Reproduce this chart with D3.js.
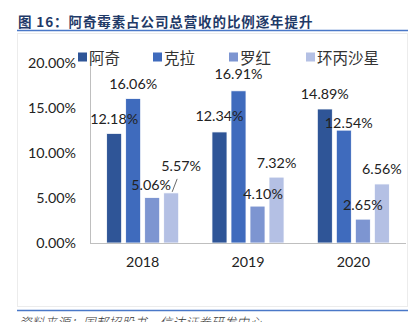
<!DOCTYPE html>
<html><head><meta charset="utf-8">
<script src="https://cdn.jsdelivr.net/npm/d3@7"></script>
<style>
html,body{margin:0;padding:0;background:#fff;}
svg{display:block;}
</style></head>
<body>
<script>
// ---- data ----
const years = ["2018", "2019", "2020"];
const seriesNames = ["阿奇", "克拉", "罗红", "环丙沙星"];
const aqi   = [0.1218, 0.1234, 0.1489];
const kela  = [0.1606, 0.1691, 0.1254];
const luohong = [0.0506, 0.0410, 0.0265];
const huanbing = [0.0557, 0.0732, 0.0656];
const yTicks = [0, 0.05, 0.10, 0.15, 0.20];
const titleText = "图 16：阿奇霉素占公司总营收的比例逐年提升";
const sourceText = "资料来源：国邦招股书，信达证券研发中心";

// ---- layout / style (not data) ----
const colors = ["#2F5597", "#3F6BBD", "#7D95D1", "#B4C0E4"];
// label nudges [dx, dy] per series per year
const labelNudge = [
  [[0,0],[0,-1],[0,0]],
  [[0,0],[0,-2],[5,7]],
  [[-1,2.5],[5.5,2],[0,0]],
  [[10,-12],[0,0],[0,0]]
];

const W = 419, H = 322;
const svg = d3.select("body").append("svg").attr("width", W).attr("height", H);

// title
svg.append("text").attr("x", 18).attr("y", 21)
  .attr("dominant-baseline", "central")
  .attr("font-family", "'Noto Sans CJK SC', sans-serif")
  .attr("font-weight", "bold").attr("font-size", 13.5)
  .attr("letter-spacing", 0.9)
  .attr("fill", "#1F3A68").text(titleText);
svg.append("line").attr("x1", 17).attr("x2", 408).attr("y1", 30.5).attr("y2", 30.5)
  .attr("stroke", "#4A78C8").attr("stroke-width", 1.6);

// faint chart frame
svg.append("rect").attr("x", 17.5).attr("y", 33.5).attr("width", 390).attr("height", 273)
  .attr("fill", "none").attr("stroke", "#ececec").attr("stroke-width", 1);

// scales
const x0 = d3.scaleBand().domain(years).range([90, 406]).paddingInner(0.278).paddingOuter(0.139);
const x1 = d3.scaleBand().domain(seriesNames).range([0, x0.bandwidth()]).paddingInner(0.21).paddingOuter(0.105);
const y = d3.scaleLinear().domain([0, 0.20]).range([243, 63]);

const seriesData = [aqi, kela, luohong, huanbing];

// y axis
const yAxis = svg.append("g").attr("transform", "translate(90,0)")
  .call(d3.axisLeft(y).tickValues(yTicks).tickFormat(d3.format(".2%")).tickSize(0).tickPadding(14));
yAxis.select(".domain").remove();
yAxis.selectAll("text").attr("font-family", "Lato, sans-serif").attr("font-size", 14.3).attr("fill", "#222");
svg.append("line").attr("x1", 90.5).attr("x2", 90.5).attr("y1", 52).attr("y2", 243)
  .attr("stroke", "#BFBFBF").attr("stroke-width", 1);

// bars
const groups = svg.append("g").selectAll("g").data(seriesNames).join("g")
  .attr("fill", (d, i) => colors[i]);
groups.each(function(name, si) {
  d3.select(this).selectAll("rect").data(seriesData[si]).join("rect")
    .attr("x", (v, yi) => x0(years[yi]) + x1(name))
    .attr("y", v => y(v))
    .attr("width", x1.bandwidth())
    .attr("height", v => y(0) - y(v))
    .attr("stroke", "#fff").attr("stroke-width", 0.8);
});

// x axis baseline
const xAxis = svg.append("g").attr("transform", "translate(0,243)")
  .call(d3.axisBottom(x0).tickSize(0).tickPadding(14));
xAxis.select(".domain").attr("stroke", "#BFBFBF").attr("d", "M90,0.5H406");
xAxis.selectAll("text").attr("font-family", "Lato, sans-serif").attr("font-size", 14.3).attr("fill", "#222");

// data labels
const fmt = d3.format(".2%");
seriesNames.forEach((name, si) => {
  seriesData[si].forEach((v, yi) => {
    const cx = x0(years[yi]) + x1(name) + x1.bandwidth() / 2;
    const top = y(v);
    const [dx, dy] = labelNudge[si][yi];
    svg.append("text").attr("x", cx + dx).attr("y", top - 15 + dy)
      .attr("text-anchor", "middle").attr("dominant-baseline", "central")
      .attr("font-family", "Lato, sans-serif").attr("font-size", 14.3).attr("fill", "#222")
      .text(fmt(v));
    if (si === 3 && yi === 0) {
      svg.append("line").attr("x1", cx + 1).attr("y1", top - 1).attr("x2", cx + 6).attr("y2", top - 14)
        .attr("stroke", "#444").attr("stroke-width", 0.8);
    }
  });
});

// legend
const legendX = [78, 153, 229, 306];
const lg = svg.append("g").selectAll("g").data(seriesNames).join("g")
  .attr("transform", (d, i) => `translate(${legendX[i]},57)`);
lg.append("rect").attr("x", 0).attr("y", -4.5).attr("width", 9).attr("height", 9)
  .attr("fill", (d, i) => colors[i]);
lg.append("text").attr("x", 11).attr("y", 0).attr("dominant-baseline", "central")
  .attr("font-family", "'Noto Sans CJK SC', sans-serif").attr("font-size", 15.5)
  .attr("fill", "#333").text(d => d);

// bottom line + source
svg.append("line").attr("x1", 17).attr("x2", 408).attr("y1", 310.5).attr("y2", 310.5)
  .attr("stroke", "#4A78C8").attr("stroke-width", 1.6);
svg.append("text").attr("x", 19).attr("y", 321)
  .attr("dominant-baseline", "central")
  .attr("font-family", "'Noto Sans CJK SC', sans-serif").attr("font-size", 12.5)
  .attr("font-style", "italic").attr("font-weight", 300).attr("fill", "#333")
  .attr("letter-spacing", 0.3)
  .text(sourceText);
</script>
</body></html>
